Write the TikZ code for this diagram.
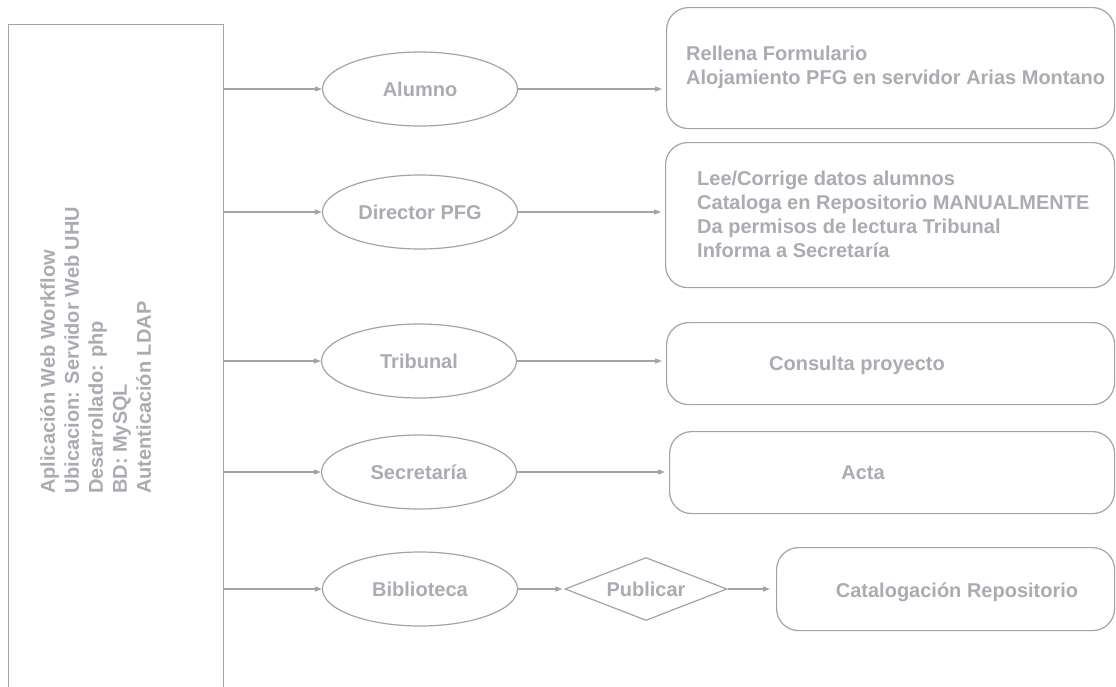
\documentclass[tikz,border=0pt]{standalone}
\usepackage{fontspec}
\setmainfont{Liberation Sans}
\usetikzlibrary{shapes.geometric,arrows.meta}
\definecolor{linegray}{HTML}{A4A4A8}
\definecolor{textgray}{HTML}{ACAAB2}
\begin{document}
\begin{tikzpicture}[x=1pt,y=-1pt,
  every node/.style={font=\fontsize{20}{24}\selectfont\bfseries, text=textgray},
  outline/.style={draw=linegray, line width=1.2pt, inner sep=0pt},
  actor/.style={outline, ellipse, minimum width=195pt, minimum height=74pt},
  taskbox/.style={outline, rectangle, rounded corners=22pt, anchor=north west},
  gate/.style={outline, diamond, aspect=2.57, minimum width=162pt, minimum height=63pt},
  flow/.style={draw=linegray, line width=1.2pt, -{Triangle[length=7pt,width=5pt]}},
  txt/.style={inner sep=0pt, align=left}
]
\fill[white] (0,0) rectangle (1116,686);
\clip (0,0) rectangle (1116,686);

% platform column on the left
\node[outline, rectangle, minimum width=215pt, minimum height=700pt, anchor=north west] (platform) at (8,24) {};
\node[txt, rotate=90, anchor=north west] (info) at (40,494)
  {Aplicación Web Workflow\\Ubicacion: Servidor Web UHU\\Desarrollado: php\\BD: MySQL\\Autenticación LDAP};

% actors
\node[actor] (alumno) at (420,89) {Alumno};
\node[actor] (director) at (420,212) {Director PFG};
\node[actor] (tribunal) at (419,361) {Tribunal};
\node[actor] (secretaria) at (419,472) {Secretaría};
\node[actor] (biblioteca) at (420,589) {Biblioteca};
\node[gate] (publicar) at (646,589) {Publicar};

% task boxes
\node[taskbox, minimum width=448pt, minimum height=121pt] (b1) at (666,7) {};
\node[taskbox, minimum width=449pt, minimum height=145pt] (b2) at (665,142) {};
\node[taskbox, minimum width=448pt, minimum height=82pt] (b3) at (666,322) {};
\node[taskbox, minimum width=445pt, minimum height=82pt] (b4) at (669,431) {};
\node[taskbox, minimum width=338pt, minimum height=83pt] (b5) at (776,547) {};

% task texts
\node[txt, anchor=west] (t1) at (686,67) {Rellena Formulario\\Alojamiento PFG en servidor Arias Montano};
\node[txt, anchor=west] (t2) at (697,214) {Lee/Corrige datos alumnos\\Cataloga en Repositorio MANUALMENTE\\Da permisos de lectura Tribunal\\Informa a Secretaría};
\node[txt] (t3) at (857,365) {Consulta proyecto};
\node[txt] (t4) at (863,473) {Acta};
\node[txt] (t5) at (957,592) {Catalogación Repositorio};

% connectors from the platform to each actor
\foreach \a in {alumno,director,tribunal,secretaria,biblioteca}
  \draw[flow] (platform.east |- \a) -- (\a.west);

% connectors from actors to their tasks
\draw[flow, shorten >=4pt] (alumno.east) -- (alumno -| b1.west);
\draw[flow, shorten >=4pt] (director.east) -- (director -| b2.west);
\draw[flow, shorten >=4pt] (tribunal.east) -- (tribunal -| b3.west);
\draw[flow, shorten >=4pt] (secretaria.east) -- (secretaria -| b4.west);
\draw[flow, shorten >=2pt] (biblioteca.east) -- (publicar.west);
\draw[flow, shorten >=6pt] (publicar.east) -- (publicar -| b5.west);
\end{tikzpicture}
\end{document}
